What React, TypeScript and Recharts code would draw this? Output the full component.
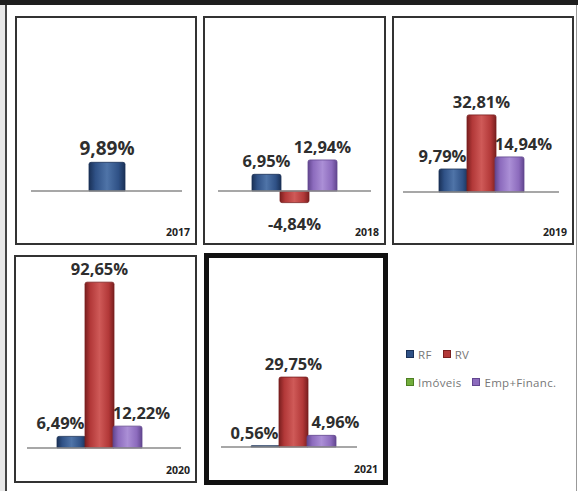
import React from "react";
import { BarChart, Bar, XAxis, YAxis, ReferenceLine, LabelList } from "recharts";

const years = ["2017", "2018", "2019", "2020", "2021"];
const rfValues: (number | null)[] = [9.89, 6.95, 9.79, 6.49, 0.56];
const rvValues: (number | null)[] = [null, -4.84, 32.81, 92.65, 29.75];
const imoveisValues: (number | null)[] = [null, null, null, null, null];
const empValues: (number | null)[] = [null, 12.94, 14.94, 12.22, 4.96];

const series = [
  { key: "RF", label: "RF", values: rfValues, color: "#2f5186", dark: "#1a3157", light: "#4f74a8" },
  { key: "RV", label: "RV", values: rvValues, color: "#b23838", dark: "#7a1f1f", light: "#cf5a58" },
  { key: "IM", label: "Imóveis", values: imoveisValues, color: "#72ad3c", dark: "#4d7f22", light: "#93c85c" },
  { key: "EMP", label: "Emp+Financ.", values: empValues, color: "#8c6bbd", dark: "#62468f", light: "#ab8fd6" },
];

// panel boxes on the page and the scale of each small chart
const panels = [
  { left: 15, top: 16, width: 182, height: 229, border: 2, zeroY: 191, ppu: 2.9, ml: 14, mr: 13, padL: 0, padR: 0, fs: 19 },
  { left: 203, top: 16, width: 183, height: 229, border: 2, zeroY: 191, ppu: 2.4, ml: 13, mr: 13, padL: 0, padR: 0, fs: 16.5 },
  { left: 392, top: 16, width: 182, height: 229, border: 2, zeroY: 192, ppu: 2.35, ml: 9, mr: 13, padL: 0, padR: 0, fs: 16.5 },
  { left: 14, top: 255, width: 183, height: 228, border: 2, zeroY: 448, ppu: 1.79, ml: 11, mr: 14, padL: 0, padR: 9, fs: 16.5 },
  { left: 204, top: 253, width: 184, height: 232, border: 5, zeroY: 447, ppu: 2.35, ml: 12, mr: 26, padL: 8, padR: 0, fs: 16.5 },
];

const fmt = (v: number) => v.toFixed(2).replace(".", ",") + "%";

function Panel({ idx }: { idx: number }) {
  const p = panels[idx];
  const innerW = p.width - 2 * p.border;
  const innerH = p.height - 2 * p.border;
  const innerTop = p.top + p.border;
  const zero = p.zeroY - innerTop;
  const domain = [-(innerH - zero) / p.ppu, zero / p.ppu];

  const active = series.filter((s) => s.values[idx] != null);
  const row: Record<string, any> = { year: years[idx] };
  active.forEach((s) => (row[s.key] = s.values[idx]));
  const rv = rvValues[idx];
  const single = active.length === 1;

  const makeLabel = (key: string) => (props: any) => {
    const { x, y, width, height, value } = props;
    if (value == null) return null;
    const top = Math.min(y, y + height);
    const bottom = Math.max(y, y + height);
    let dx = 0;
    if (rv != null && rv > value) {
      if (key === "RF") dx = -11;
      if (key === "EMP") dx = 14;
    }
    const ty = value >= 0 ? top - 7 : bottom + 27;
    return (
      <text
        x={x + width / 2 + dx}
        y={ty}
        textAnchor="middle"
        fontFamily="'Open Sans', sans-serif"
        fontWeight={700}
        fontSize={p.fs}
        fill="#2e2e2e"
      >
        {fmt(value)}
      </text>
    );
  };

  return (
    <div
      style={{
        position: "absolute",
        left: p.left,
        top: p.top,
        width: p.width,
        height: p.height,
        border: `${p.border}px solid ${p.border > 2 ? "#111" : "#333"}`,
        boxSizing: "border-box",
        background: "#fff",
      }}
    >
      <BarChart
        width={innerW}
        height={innerH}
        data={[row]}
        margin={{ top: 0, bottom: 0, left: p.ml, right: p.mr }}
        barGap={-1}
        barSize={single ? 36 : 29}
      >
        <defs>
          {series.map((s) => (
            <linearGradient key={s.key} id={`g-${idx}-${s.key}`} x1="0" y1="0" x2="1" y2="0">
              <stop offset="0%" stopColor={s.dark} />
              <stop offset="18%" stopColor={s.color} />
              <stop offset="50%" stopColor={s.light} />
              <stop offset="82%" stopColor={s.color} />
              <stop offset="100%" stopColor={s.dark} />
            </linearGradient>
          ))}
        </defs>
        <XAxis dataKey="year" hide padding={{ left: p.padL, right: p.padR }} />
        <YAxis hide domain={domain} allowDataOverflow />
        <ReferenceLine y={0} stroke="#8a8a8a" strokeWidth={1.5} />
        {active.map((s) => (
          <Bar
            key={s.key}
            dataKey={s.key}
            fill={`url(#g-${idx}-${s.key})`}
            stroke={s.dark}
            strokeWidth={0.8}
            radius={[2, 2, 0, 0]}
            isAnimationActive={false}
          >
            <LabelList dataKey={s.key} content={makeLabel(s.key)} />
          </Bar>
        ))}
      </BarChart>
      <div
        style={{
          position: "absolute",
          right: 5,
          bottom: 4,
          fontFamily: "'Open Sans', sans-serif",
          fontWeight: 700,
          fontSize: 10.5,
          color: "#222",
        }}
      >
        {years[idx]}
      </div>
    </div>
  );
}

function Legend() {
  const rows = [series.slice(0, 2), series.slice(2, 4)];
  return (
    <div style={{ position: "absolute", left: 406, top: 347 }}>
      {rows.map((r, i) => (
        <div key={i} style={{ display: "flex", alignItems: "center", height: 14, marginBottom: i === 0 ? 14 : 0 }}>
          {r.map((s) => (
            <div key={s.key} style={{ display: "flex", alignItems: "center", marginRight: 11 }}>
              <span
                style={{
                  display: "inline-block",
                  width: 6,
                  height: 6,
                  background: s.color,
                  border: `1px solid ${s.dark}`,
                  marginRight: 4,
                }}
              />
              <span
                style={{
                  fontFamily: "'Open Sans', sans-serif",
                  fontSize: 11.5,
                  color: "#777",
                  letterSpacing: 0.3,
                }}
              >
                {s.label}
              </span>
            </div>
          ))}
        </div>
      ))}
    </div>
  );
}

export default function App() {
  return (
    <div
      style={{
        position: "absolute",
        left: 0,
        top: 0,
        width: 578,
        height: 491,
        background: "#fff",
        overflow: "hidden",
      }}
    >
      <div style={{ position: "absolute", left: 0, top: 0, width: 578, height: 5, background: "#1e1e1e" }} />
      <div style={{ position: "absolute", left: 0, top: 5, width: 5, height: 486, background: "#e8e8e8" }} />
      <div style={{ position: "absolute", left: 5, top: 5, width: 2, height: 486, background: "#444" }} />
      <div style={{ position: "absolute", left: 576, top: 5, width: 1, height: 486, background: "#999" }} />
      {years.map((_, i) => (
        <Panel key={i} idx={i} />
      ))}
      <Legend />
    </div>
  );
}
